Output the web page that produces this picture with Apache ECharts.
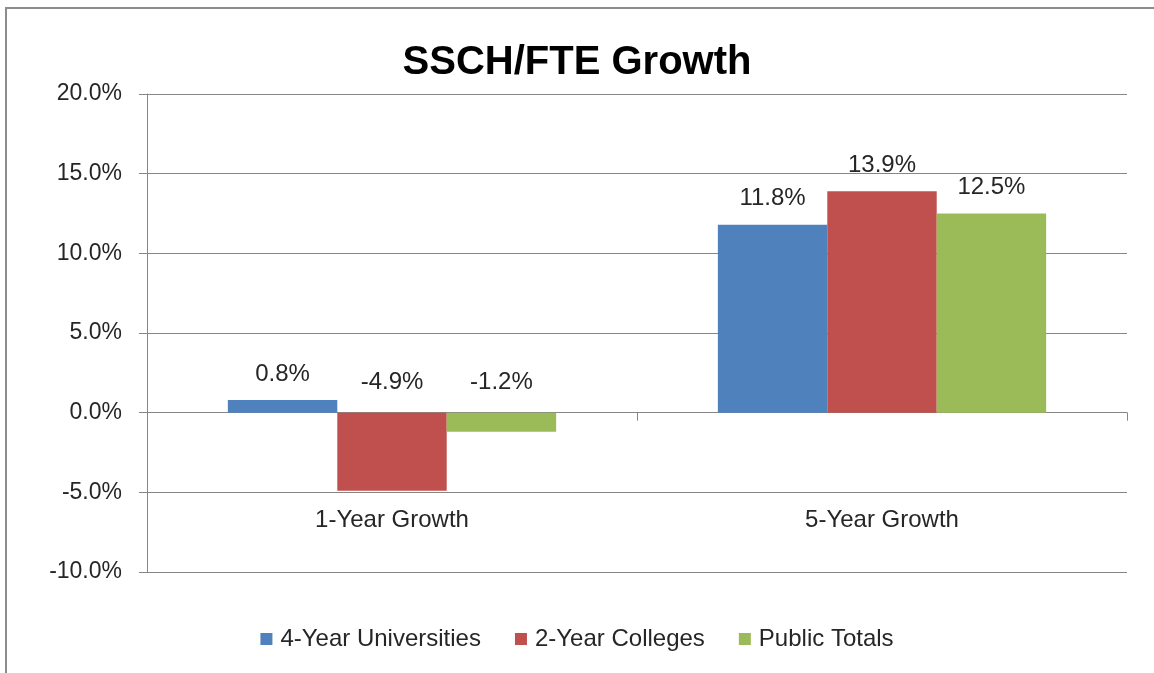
<!DOCTYPE html>
<html>
<head>
<meta charset="utf-8">
<script src="https://cdn.jsdelivr.net/npm/echarts@6/dist/echarts.min.js"></script>
<style>
html, body { margin: 0; padding: 0; background: #fff; }
#chart { width: 1154px; height: 673px; }
</style>
</head>
<body>
<div id="chart"></div>
<script>
// data
var categories = ['1-Year Growth', '5-Year Growth'];
var seriesNames = ['4-Year Universities', '2-Year Colleges', 'Public Totals'];
var univ = [0.8, 11.8];
var colleges = [-4.9, 13.9];
var totals = [-1.2, 12.5];
var colors = ['#4F81BD', '#C0504D', '#9BBB59'];

var font = '"Liberation Sans", Arial, sans-serif';
var textColor = '#262626';

function barSeries(name, values, color) {
    return {
        name: name,
        type: 'bar',
        barGap: 0,
        barCategoryGap: '33%',
        itemStyle: { color: color },
        data: values.map(function (v) {
            return {
                value: v,
                label: { position: 'top', distance: v < 0 ? 18 : 14 }
            };
        }),
        label: {
            show: true,
            fontFamily: font,
            fontSize: 24,
            color: textColor,
            formatter: function (p) { return p.value.toFixed(1) + '%'; }
        }
    };
}

var chart = echarts.init(document.getElementById('chart'));
chart.setOption({
    animation: false,
    title: {
        text: 'SSCH/FTE Growth',
        left: 'center',
        top: 38,
        textStyle: { fontFamily: font, fontSize: 40, fontWeight: 'bold', color: '#000' }
    },
    graphic: [{
        type: 'polyline',
        shape: { points: [[6, 700], [6, 8], [1200, 8]] },
        style: { stroke: '#8c8c8c', lineWidth: 2, fill: null }
    }],
    legend: {
        top: 622,
        left: 'center',
        itemWidth: 12,
        itemHeight: 12,
        itemGap: 34,
        icon: 'rect',
        textStyle: { fontFamily: font, fontSize: 24, color: textColor, padding: [0, 0, 0, 3] }
    },
    grid: { left: 147, right: 27, top: 94, bottom: 101, outerBoundsMode: 'none' },
    xAxis: {
        type: 'category',
        data: categories,
        axisLine: { onZero: true, lineStyle: { color: '#868686' } },
        axisTick: { show: true, length: 8, lineStyle: { color: '#868686' } },
        axisLabel: { margin: -64, fontFamily: font, fontSize: 24, color: textColor }
    },
    yAxis: {
        type: 'value',
        min: -10,
        max: 20,
        interval: 5,
        axisLine: { show: true, lineStyle: { color: '#868686' } },
        axisTick: { show: true, length: 8, lineStyle: { color: '#868686' } },
        splitLine: { lineStyle: { color: '#868686' } },
        axisLabel: {
            margin: 25,
            fontFamily: font,
            fontSize: 23,
            color: textColor,
            formatter: function (v) { return v.toFixed(1) + '%'; }
        }
    },
    series: [
        barSeries(seriesNames[0], univ, colors[0]),
        barSeries(seriesNames[1], colleges, colors[1]),
        barSeries(seriesNames[2], totals, colors[2])
    ]
});
</script>
</body>
</html>
